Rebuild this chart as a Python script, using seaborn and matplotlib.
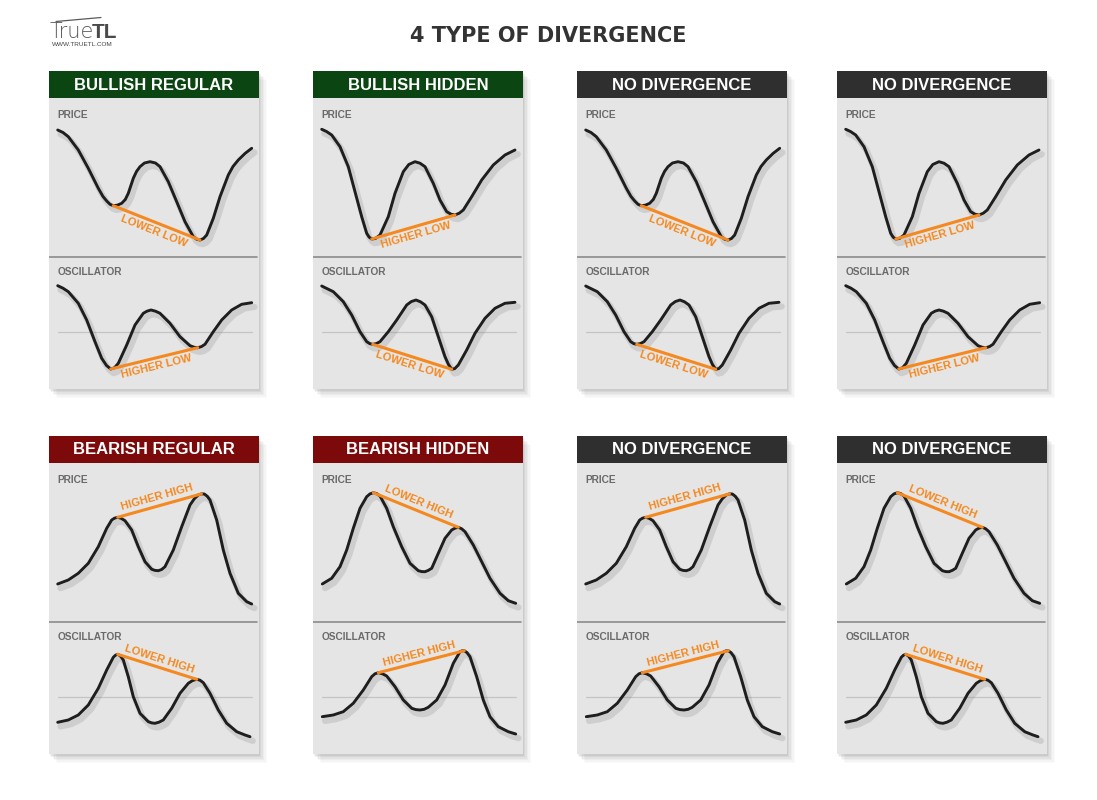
"""Four types of divergence: price vs oscillator cheat sheet."""

import matplotlib
matplotlib.use('Agg')
import matplotlib.pyplot as plt
import matplotlib.patheffects as pe
from matplotlib.patches import Rectangle
from matplotlib.lines import Line2D
import seaborn as sns
import numpy as np

sns.set_style('white')
plt.rcParams['font.family'] = ['Liberation Sans', 'DejaVu Sans']

W, H = 1097, 800
PANEL_W, PANEL_H, HEADER_H = 210, 318, 27
DIVIDER_Y = 186
OSC_ZERO_Y = 260.5

# curves, in panel pixels (x from panel left, y down from header top)
price_lower_low_x = [8.7, 14.0, 19.3, 29.3, 39.3, 49.3, 54.0, 57.7, 61.0, 64.3, 68.3, 72.7, 76.3, 79.3, 84.3, 87.5,
                     91.0, 95.5, 101.0, 106.5, 111.0, 119.3, 127.7, 136.0, 144.3, 147.8, 151.0, 154.5, 157.7, 164.3,
                     171.0, 179.3, 184.0, 189.3, 196.0, 202.7]
price_lower_low_y = [59.0, 61.5, 65.7, 79.0, 97.3, 117.3, 125.5, 130.0, 133.3, 134.7, 134.2, 132.3, 128.5, 122.3, 107.3,
                     100.5, 95.7, 92.0, 90.7, 92.0, 95.7, 110.7, 130.7, 150.7, 165.7, 168.3, 169.0, 167.5, 164.0, 147.3,
                     125.7, 104.0, 95.5, 89.0, 82.5, 77.3]

price_higher_low_x = [8.7, 13.5, 18.7, 27.0, 35.3, 42.0, 48.7, 53.7, 56.2, 58.7, 62.5, 67.0, 75.3, 82.0, 90.3, 95.8,
                      102.0, 107.0, 112.0, 120.3, 127.0, 133.7, 138.0, 142.0, 146.3, 150.3, 158.7, 168.7, 180.3,
                      192.0, 202.0]
price_higher_low_y = [58.3, 60.5, 64.0, 75.7, 95.7, 120.7, 145.7, 162.3, 166.2, 168.0, 167.5, 164.0, 145.7, 122.3, 100.7,
                      93.5, 90.7, 92.2, 95.7, 112.3, 129.0, 140.7, 143.2, 144.0, 142.2, 139.0, 125.7, 109.0, 94.0,
                      84.0, 79.0]

price_higher_high_x = [8.7, 19.3, 29.3, 39.3, 49.3, 57.7, 62.7, 65.7, 68.7, 72.3, 76.0, 82.7, 89.3, 96.0, 102.7, 106.0,
                       109.3, 112.7, 116.0, 124.3, 132.7, 141.0, 145.3, 149.3, 152.4, 155.3, 158.2, 161.0, 167.7,
                       174.3, 181.0, 189.3, 197.7, 202.7]
price_higher_high_y = [148.0, 144.0, 137.3, 127.3, 110.7, 92.3, 84.0, 82.1, 81.3, 82.4, 84.7, 94.0, 110.7, 125.7, 133.3,
                       134.4, 134.7, 133.5, 130.7, 114.0, 90.7, 69.0, 62.8, 59.0, 57.9, 58.0, 60.2, 64.0, 84.0,
                       114.0, 137.3, 157.3, 165.7, 168.0]

price_lower_high_x = [9.3, 18.7, 27.0, 33.7, 40.3, 47.0, 53.7, 57.0, 60.3, 63.7, 67.0, 73.7, 80.3, 88.7, 97.0, 105.3,
                      108.7, 112.0, 115.3, 118.7, 125.3, 132.0, 138.7, 142.0, 145.3, 148.7, 152.0, 160.3, 168.7,
                      177.0, 187.0, 195.3, 202.7]
price_lower_high_y = [148.0, 142.3, 130.7, 114.0, 92.3, 72.3, 60.7, 57.9, 56.7, 57.6, 60.0, 72.3, 90.7, 110.7, 127.3,
                      134.7, 135.6, 135.7, 134.4, 132.3, 117.3, 102.3, 94.0, 92.2, 91.3, 92.8, 95.7, 109.0, 125.7,
                      142.3, 157.3, 164.7, 167.3]

osc_higher_low_x = [8.7, 14.0, 19.3, 29.3, 37.7, 46.0, 52.7, 57.5, 61.7, 65.5, 69.3, 77.7, 86.0, 94.3, 98.0, 102.0,
                    106.5, 111.0, 121.0, 131.0, 141.0, 145.0, 148.7, 152.5, 156.0, 164.3, 172.7, 182.7, 192.7, 202.7]
osc_higher_low_y = [214.7, 217.2, 220.7, 232.3, 249.0, 270.7, 287.3, 294.5, 298.0, 296.8, 292.3, 274.0, 254.0, 242.3,
                    240.2, 239.0, 240.2, 242.3, 252.3, 265.7, 274.7, 276.2, 276.7, 275.6, 273.3, 260.7, 249.0, 239.0,
                    233.3, 231.7]

osc_lower_low_x = [8.7, 20.3, 30.3, 38.7, 47.0, 53.7, 56.7, 59.7, 63.3, 67.0, 75.3, 83.7, 93.7, 98.3, 103.0, 107.5,
                   112.0, 118.7, 125.3, 132.0, 135.5, 138.7, 141.8, 145.3, 153.7, 162.0, 172.0, 182.0, 192.0, 202.0]
osc_lower_low_y = [215.0, 220.7, 230.7, 244.0, 260.7, 270.7, 272.6, 273.3, 272.6, 270.7, 260.7, 249.0, 234.0, 230.6,
                   229.0, 230.8, 234.0, 245.7, 265.7, 285.7, 293.5, 298.3, 297.6, 294.0, 279.0, 262.3, 247.3, 237.3,
                   232.3, 231.3]

osc_lower_high_x = [8.7, 19.3, 29.3, 39.3, 49.3, 57.7, 64.3, 66.5, 68.7, 71.3, 74.3, 79.3, 84.3, 91.0, 99.3, 102.7,
                    106.0, 110.0, 114.3, 122.7, 131.0, 139.3, 143.5, 147.7, 151.0, 154.3, 161.0, 169.3, 177.7, 187.7,
                    196.0, 201.0]
osc_lower_high_y = [286.3, 284.0, 279.0, 269.0, 252.3, 234.0, 221.3, 219.2, 218.3, 219.8, 224.0, 240.7, 260.7, 277.3,
                    285.7, 286.9, 287.3, 286.2, 284.0, 272.3, 257.3, 247.3, 244.6, 243.3, 244.2, 246.7, 257.3, 274.0,
                    287.3, 295.7, 299.0, 300.7]

osc_higher_high_x = [9.3, 20.3, 30.3, 40.3, 50.3, 58.7, 62.0, 65.3, 69.5, 73.7, 82.0, 90.3, 98.7, 102.8, 107.0, 111.2,
                     115.3, 123.7, 132.0, 140.3, 147.0, 149.2, 151.3, 154.0, 157.0, 163.7, 170.3, 177.0, 185.3, 195.3,
                     202.7]
osc_higher_high_y = [280.7, 279.0, 275.7, 267.3, 254.0, 240.7, 237.8, 236.7, 237.8, 240.0, 250.7, 264.0, 272.3, 273.6,
                     274.0, 273.3, 271.3, 264.0, 249.0, 227.3, 215.7, 214.8, 214.7, 216.6, 220.7, 240.7, 264.0, 280.7,
                     290.7, 295.7, 298.0]

price_curves = {
    'lower_low': (price_lower_low_x, price_lower_low_y),
    'higher_low': (price_higher_low_x, price_higher_low_y),
    'higher_high': (price_higher_high_x, price_higher_high_y),
    'lower_high': (price_lower_high_x, price_lower_high_y),
}
osc_curves = {
    'lower_low': (osc_lower_low_x, osc_lower_low_y),
    'higher_low': (osc_higher_low_x, osc_higher_low_y),
    'higher_high': (osc_higher_high_x, osc_higher_high_y),
    'lower_high': (osc_lower_high_x, osc_lower_high_y),
}

panel_titles = ['BULLISH REGULAR', 'BULLISH HIDDEN', 'NO DIVERGENCE', 'NO DIVERGENCE',
                'BEARISH REGULAR', 'BEARISH HIDDEN', 'NO DIVERGENCE', 'NO DIVERGENCE']
panel_kinds = ['bull', 'bull', 'none', 'none', 'bear', 'bear', 'none', 'none']
price_shapes = ['lower_low', 'higher_low', 'lower_low', 'higher_low',
                'higher_high', 'lower_high', 'higher_high', 'lower_high']
osc_shapes = ['higher_low', 'lower_low', 'lower_low', 'higher_low',
              'lower_high', 'higher_high', 'higher_high', 'lower_high']

panel_lefts = [49, 313, 577, 837]
panel_tops = [71, 436]

header_colors = {'bull': '#0b4511', 'bear': '#7d0a0a', 'none': '#2f2f2f'}
BODY = '#e5e5e5'
CURVE = '#1e1e1e'
ORANGE = '#f5891f'


def pivots(y, lows):
    # two swing points of a curve (y grows downward)
    s = np.asarray(y) if lows else -np.asarray(y)
    return [i for i in range(1, len(s) - 1) if s[i] >= s[i - 1] and s[i] >= s[i + 1]]


def draw_curve(ax, x, y, shape):
    sns.lineplot(x=x, y=y, ax=ax, color=CURVE, lw=2.1, estimator=None, sort=False,
                 solid_joinstyle='round', solid_capstyle='round',
                 path_effects=[pe.SimpleLineShadow(offset=(2, -3), shadow_color='#666', alpha=0.18, linewidth=4.5),
                               pe.Normal()])
    lows = shape.endswith('low')
    i, j = pivots(y, lows)[:2]
    px, py = [x[i], x[j]], [y[i], y[j]]
    sns.lineplot(x=px, y=py, ax=ax, color=ORANGE, lw=2.2, estimator=None, sort=False,
                 solid_capstyle='round')
    dx, dy = px[1] - px[0], py[1] - py[0]
    length = np.hypot(dx, dy)
    nx, ny = -dy / length, dx / length
    side = 8.5 if lows else -8.5
    mx, my = (px[0] + px[1]) / 2 + side * nx, (py[0] + py[1]) / 2 + side * ny
    ax.text(mx, my, shape.replace('_', ' ').upper(), color=ORANGE, fontsize=8, fontweight='bold',
            rotation=np.degrees(np.arctan2(-dy, dx)), rotation_mode='anchor', ha='center', va='center')


fig = plt.figure(figsize=(W / 100, H / 100), dpi=100)
fig.patch.set_facecolor('white')

for k in range(8):
    row, col = divmod(k, 4)
    left, top = panel_lefts[col], panel_tops[row]
    ax = fig.add_axes([left / W, 1 - (top + PANEL_H) / H, PANEL_W / W, PANEL_H / H])
    ax.set_xlim(0, PANEL_W)
    ax.set_ylim(PANEL_H, 0)
    ax.axis('off')

    # soft drop shadow + body
    for s, a in [(9, 0.02), (7.5, 0.025), (6, 0.03), (4.5, 0.04), (3, 0.05), (1.5, 0.05)]:
        ax.add_patch(Rectangle((s - 1, s), PANEL_W, PANEL_H, fc='#000', ec='none', alpha=a,
                               clip_on=False, zorder=0))
    ax.add_patch(Rectangle((0, 0), PANEL_W, PANEL_H, fc=BODY, ec='none', clip_on=False, zorder=0.5))
    ax.add_patch(Rectangle((0, 0), PANEL_W, HEADER_H, fc=header_colors[panel_kinds[k]], ec='none',
                           clip_on=False, zorder=1))
    ax.text(PANEL_W / 2, HEADER_H / 2 + 0.5, panel_titles[k], color='white', fontsize=12,
            fontweight='bold', ha='center', va='center')

    ax.text(8.7, 44, 'PRICE', color='#6a6a6a', fontsize=7.3, fontweight='bold', va='center')
    ax.text(8.7, 201, 'OSCILLATOR', color='#6a6a6a', fontsize=7.3, fontweight='bold', va='center')
    ax.plot([0, PANEL_W - 2], [DIVIDER_Y, DIVIDER_Y], color='#8c8c8c', lw=1.2)
    ax.plot([8.7, 202.7], [OSC_ZERO_Y, OSC_ZERO_Y], color='#c4c4c4', lw=0.9)

    x, y = price_curves[price_shapes[k]]
    draw_curve(ax, x, y, price_shapes[k])
    x, y = osc_curves[osc_shapes[k]]
    draw_curve(ax, x, y, osc_shapes[k])

fig.text(548 / W, 1 - 35.5 / H, '4 TYPE OF DIVERGENCE', fontsize=15, fontweight='bold',
         color='#333333', ha='center', va='center', family='DejaVu Sans')

# logo
fig.text(50 / W, 1 - 38 / H, 'True', fontsize=15, color='#5a5a5a', ha='left', va='baseline',
         family='DejaVu Sans', fontweight='light')
fig.text(92 / W, 1 - 38 / H, 'TL', fontsize=15, color='#4a4a4a', ha='left', va='baseline',
         fontweight='bold')
fig.add_artist(Line2D([56 / W, 101 / W], [1 - 21.5 / H, 1 - 17.5 / H], color='#5a5a5a', lw=0.9))
fig.text(51.5 / W, 1 - 45 / H, 'WWW.TRUETL.COM', fontsize=4.6, color='#444444', ha='left', va='center')

fig.savefig('out.png', dpi=100, facecolor='white')
